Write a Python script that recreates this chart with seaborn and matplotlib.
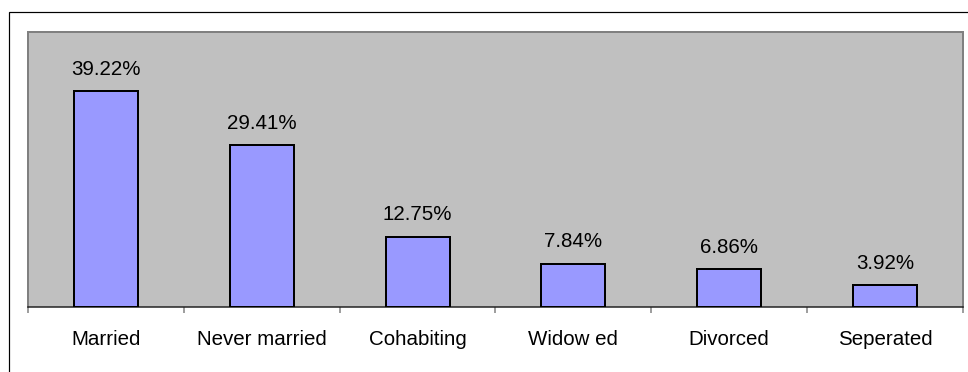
import matplotlib
matplotlib.use("Agg")
import matplotlib.pyplot as plt
from matplotlib.patches import Rectangle
from matplotlib.ticker import FixedLocator
import seaborn as sns
import numpy as np

categories = ["Married", "Never married", "Cohabiting", "Widow ed", "Divorced", "Seperated"]
percentages = [39.22, 29.41, 12.75, 7.84, 6.86, 3.92]
value_labels = ["39.22%", "29.41%", "12.75%", "7.84%", "6.86%", "3.92%"]

sns.set_theme(style="white")
plt.rcParams["font.family"] = ["Liberation Sans", "DejaVu Sans"]

W, H, DPI = 968, 372, 100
fig = plt.figure(figsize=(W / DPI, H / DPI), dpi=DPI)
px = 72 / DPI  # points per pixel

# outer chart frame
fig.patches.append(Rectangle((8.5 / W, -0.2), 1.2, 1.2 - 12 / H + 0.0005,
                             transform=fig.transFigure, fill=False,
                             edgecolor="black", linewidth=1.2 * px, zorder=0))

ax = fig.add_axes([28 / W, (H - 306.7) / H, (963 - 28) / W, (306.7 - 32) / H])
ax.set_facecolor("#C0C0C0")

sns.barplot(x=categories, y=percentages, color="#9999FF", saturation=1,
            edgecolor="black", linewidth=2 * px, width=0.41, ax=ax, zorder=3)

ax.set_xlim(-0.5, len(categories) - 0.5)
ax.set_ylim(0, 50)
ax.set_yticks([])
ax.set_xlabel("")
ax.set_ylabel("")

for side in ("top", "left", "right"):
    ax.spines[side].set_color("#808080")
    ax.spines[side].set_linewidth(2 * px)
ax.spines["bottom"].set_color("#202020")
ax.spines["bottom"].set_linewidth(1.5 * px)

# category separators as minor ticks, labels centred without ticks
ax.xaxis.set_minor_locator(FixedLocator(np.arange(-0.5, len(categories), 1.0)))
ax.tick_params(axis="x", which="major", length=0, pad=17, labelcolor="black")
ax.tick_params(axis="x", which="minor", length=6 * px, width=1.5 * px,
               color="#808080", bottom=True)
for lbl in ax.get_xticklabels():
    lbl.set_fontsize(20.5 * px)

ax.bar_label(ax.containers[0], labels=value_labels, padding=9,
             fontsize=20.5 * px, color="black")

fig.savefig("out.png", dpi=DPI, facecolor="white")
